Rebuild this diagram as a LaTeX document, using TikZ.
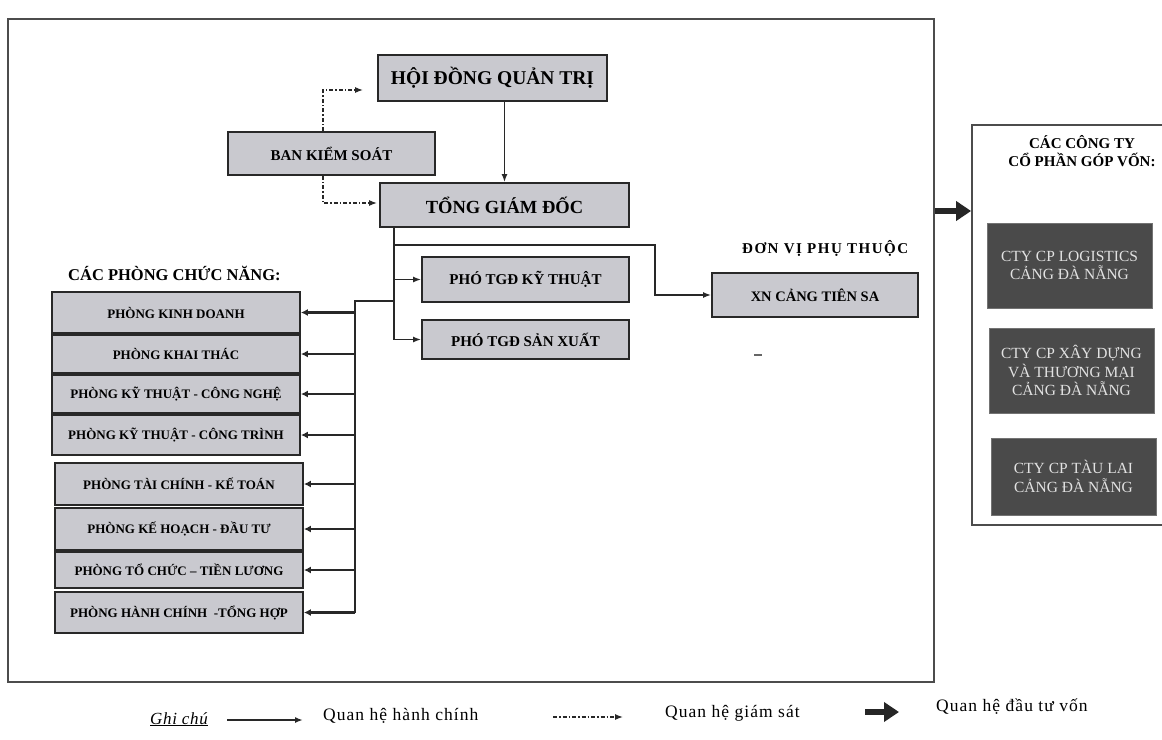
\documentclass[tikz,border=0pt]{standalone}
\usepackage{fontspec}
\setmainfont{Liberation Serif}
\usetikzlibrary{arrows.meta,calc}
\definecolor{boxgray}{RGB}{201,201,207}
\definecolor{darkfill}{RGB}{74,74,74}
\definecolor{darktext}{RGB}{226,226,226}
\definecolor{linec}{RGB}{40,40,40}
\begin{document}
\begin{tikzpicture}[x=1pt,y=-1pt,
  gbox/.style={draw=linec, line width=1.8pt, fill=boxgray, inner sep=0pt},
  dept/.style={gbox, minimum width=248, minimum height=#1, font=\bfseries\fontsize{13}{15}\selectfont},
  dbox/.style={fill=darkfill, draw=black!55, line width=1pt, text=darktext, align=center,
     minimum width=165, inner sep=0pt, font=\fontsize{15.5}{18.5}\selectfont},
  framebox/.style={draw=black!70, line width=1.8pt, inner sep=0pt},
  arr/.style={draw=linec, line width=1.6pt, -{Latex[length=8pt,width=6pt]}},
  darr/.style={draw=linec, line width=2.4pt, -{Latex[length=7pt,width=7pt]}},
  busline/.style={draw=linec, line width=2pt},
  dsh/.style={draw=linec, line width=1.3pt, dash pattern=on 4pt off 2pt on 1.5pt off 2pt, -{Latex[length=8pt,width=6pt]}},
  thk/.style={draw=black!85, line width=5.5pt, -{Triangle[length=15pt,width=19pt]}},
  legend/.style={anchor=base west, font=\fontsize{17.5}{20}\selectfont\addfontfeature{LetterSpace=6}}
]
\useasboundingbox (0,0) rectangle (1162,739);
\fill[white] (0,0) rectangle (1162,739);

% frames
\node[framebox, minimum width=926, minimum height=663] (frame) at (471,350.5) {};
\node[framebox, minimum width=203, minimum height=400] (panel) at (1073.5,325) {};

% top nodes
\node[gbox, minimum width=229, minimum height=46, font=\bfseries\fontsize{19.5}{22}\selectfont] (hdqt) at (492.5,78) {HỘI ĐỒNG QUẢN TRỊ};
\node[gbox, minimum width=207, minimum height=43, font=\bfseries\fontsize{15}{17}\selectfont] (bks) at (331.5,153.5) {BAN KIỂM SOÁT};
\node[gbox, minimum width=249, minimum height=44, font=\bfseries\fontsize{18.5}{21}\selectfont] (tgd) at (504.5,205) {TỔNG GIÁM ĐỐC};
\node[gbox, minimum width=207, minimum height=45, font=\bfseries\fontsize{15}{17}\selectfont] (pkt) at (525.5,279.5) {PHÓ TGĐ KỸ THUẬT};
\node[gbox, minimum width=207, minimum height=39, font=\bfseries\fontsize{15}{17}\selectfont] (psx) at (525.5,339.5) {PHÓ TGĐ SẢN XUẤT};
\node[gbox, minimum width=206, minimum height=44, font=\bfseries\fontsize{14.5}{17}\selectfont] (xn) at (815,295) {XN CẢNG TIÊN SA};

\node[anchor=west, inner sep=0pt, font=\bfseries\fontsize{15}{17}\selectfont\addfontfeature{LetterSpace=10}] (dvpt) at (742,248) {ĐƠN VỊ PHỤ THUỘC};
\node[anchor=west, inner sep=0pt, font=\bfseries\fontsize{16.5}{19}\selectfont] (cpcn) at (68,273) {CÁC PHÒNG CHỨC NĂNG:};

% departments
\node[dept=41] (d1) at (176,312.5) {PHÒNG KINH DOANH};
\node[dept=38] (d2) at (176,354) {PHÒNG KHAI THÁC};
\node[dept=38] (d3) at (176,394) {PHÒNG KỸ THUẬT - CÔNG NGHỆ};
\node[dept=40] (d4) at (176,435) {PHÒNG KỸ THUẬT - CÔNG TRÌNH};
\node[dept=42] (d5) at (179,484) {PHÒNG TÀI CHÍNH - KẾ TOÁN};
\node[dept=42] (d6) at (179,529) {PHÒNG KẾ HOẠCH - ĐẦU TƯ};
\node[dept=36] (d7) at (179,570) {PHÒNG TỔ CHỨC – TIỀN LƯƠNG};
\node[dept=41] (d8) at (179,612.5) {PHÒNG HÀNH CHÍNH \ -TỔNG HỢP};

% right panel
\node[align=center, inner sep=0pt, font=\bfseries\fontsize{15}{18}\selectfont] (cty) at (1082,151) {CÁC CÔNG TY\\CỔ PHẦN GÓP VỐN:};
\node[dbox, minimum height=85] (b1) at (1069.5,265.5) {CTY CP LOGISTICS\\CẢNG ĐÀ NẴNG};
\node[dbox, minimum height=85] (b2) at (1071.5,370.5) {CTY CP XÂY DỰNG\\VÀ THƯƠNG MẠI\\CẢNG ĐÀ NẴNG};
\node[dbox, minimum height=77] (b3) at (1073.5,476.5) {CTY CP TÀU LAI\\CẢNG ĐÀ NẴNG};

% connectors
\draw[arr] (hdqt.south -| tgd.north) -- (tgd.north);
\draw[dsh] ([xshift=-8.5pt]bks.north) |- ([xshift=-14pt,yshift=-12pt]hdqt.west);
\draw[dsh] ([xshift=-8.5pt]bks.south) |- ([xshift=-2pt,yshift=2pt]tgd.west);

\coordinate (t0) at ([xshift=15pt]tgd.south west);
\draw[arr] (t0) |- (psx.west);
\draw[arr] (t0 |- pkt.west) -- (pkt.west);
\coordinate (t1) at ([yshift=-17pt]t0);
\coordinate (xa) at ([xshift=-56pt]xn.west);
\draw[arr] (t1) -| (xa) -- (xn.west);
\coordinate (t2) at ([yshift=-73pt]t0);
\coordinate (bus) at ([xshift=-39pt]t2);
\draw[busline] (t2) -- (bus) -- (bus |- d8.east);
\foreach \d in {d1,d2,d3,d4,d5,d6,d7,d8} \draw[darr] (bus |- \d.east) -- (\d.east);

\coordinate (ta) at (950,211);
\draw[thk] (frame.east |- ta) -- (panel.west |- ta);

% stray mark
\draw[black!60, line width=1.2pt] (754,355) -- (762,355);

% legend
\node[anchor=base west, inner sep=0pt, font=\itshape\fontsize{17}{20}\selectfont\addfontfeature{LetterSpace=4}] (gc) at (150,724) {\underline{Ghi chú}};
\coordinate (l1a) at (227,720);
\coordinate (l1b) at (303,720);
\draw[arr] (l1a) -- (l1b);
\node[legend, inner sep=0pt] (lg1) at (323,720) {Quan hệ hành chính};
\coordinate (l2a) at (553,717);
\coordinate (l2b) at (623,717);
\draw[dsh] (l2a) -- (l2b);
\node[legend, inner sep=0pt] (lg2) at (665,717) {Quan hệ giám sát};
\coordinate (l3a) at (865,712);
\coordinate (l3b) at (899,712);
\draw[thk] (l3a) -- (l3b);
\node[legend, inner sep=0pt] (lg3) at (936,711) {Quan hệ đầu tư vốn};
\end{tikzpicture}
\end{document}
